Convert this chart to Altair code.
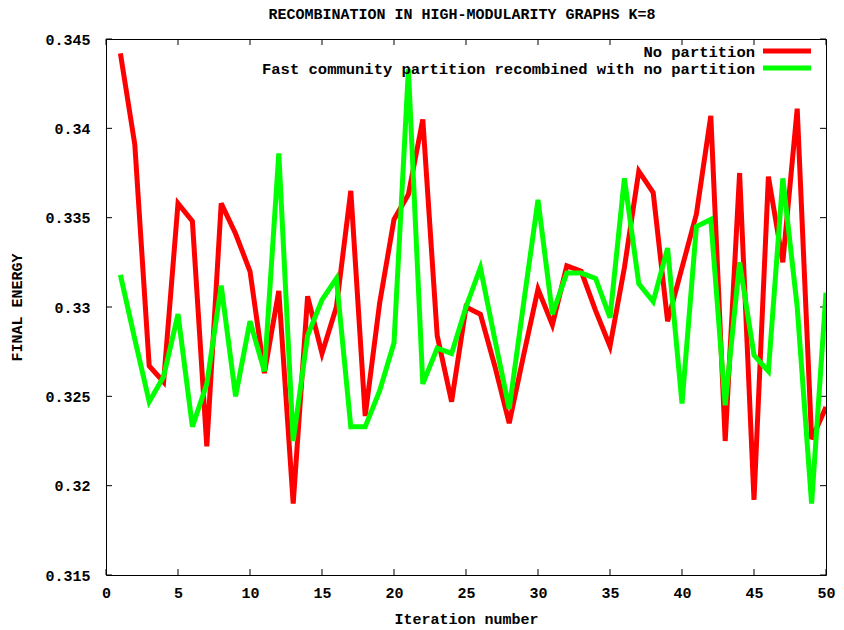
import altair as alt
import pandas as pd

ITER = list(range(1, 51))
NO_PART = [0.3442, 0.3391, 0.3267, 0.3258, 0.3358, 0.3348, 0.3222, 0.3358, 0.3341, 0.3320,
           0.3263, 0.3309, 0.3190, 0.3306, 0.3274, 0.3300, 0.3365, 0.3239, 0.3302, 0.3349,
           0.3363, 0.3405, 0.3284, 0.3247, 0.3300, 0.3296, 0.3267, 0.3235, 0.3273, 0.3310,
           0.3290, 0.3323, 0.3320, 0.3298, 0.3278, 0.3322, 0.3376, 0.3364, 0.3292, 0.3322,
           0.3352, 0.3407, 0.3225, 0.3375, 0.3192, 0.3373, 0.3325, 0.3411, 0.3226, 0.3244]
FAST_COMM = [0.3318, 0.3282, 0.3247, 0.3261, 0.3296, 0.3233, 0.3257, 0.3312, 0.3250, 0.3292,
             0.3264, 0.3386, 0.3225, 0.3284, 0.3304, 0.3316, 0.3233, 0.3233, 0.3253, 0.3280,
             0.3433, 0.3257, 0.3277, 0.3274, 0.3300, 0.3322, 0.3282, 0.3243, 0.3302, 0.3360,
             0.3296, 0.3319, 0.3319, 0.3316, 0.3294, 0.3372, 0.3313, 0.3303, 0.3333, 0.3246,
             0.3345, 0.3349, 0.3245, 0.3325, 0.3273, 0.3264, 0.3372, 0.3300, 0.3190, 0.3308]
SERIES = ["No partition", "Fast community partition recombined with no partition"]
COLORS = ["#ff0000", "#00ff00"]
X_TICKS = [0, 5, 10, 15, 20, 25, 30, 35, 40, 45, 50]
Y_TICKS = [0.315, 0.32, 0.325, 0.33, 0.335, 0.34, 0.345]
TITLE = "RECOMBINATION IN HIGH-MODULARITY GRAPHS K=8"
X_TITLE = "Iteration number"
Y_TITLE = "FINAL ENERGY"

FONT = "Liberation Mono"
W, H = 720, 536
TICK = 6

xscale = alt.Scale(domain=[0, 50], nice=False, zero=False)
yscale = alt.Scale(domain=[0.315, 0.345], nice=False, zero=False)
xaxis = alt.Axis(values=X_TICKS, title=X_TITLE, labelPadding=10, titlePadding=11, labelFlush=False)
yaxis = alt.Axis(values=Y_TICKS, title=Y_TITLE, format=".3~f", labelPadding=16, titlePadding=20,
                 labelFlush=False)

series_data = [NO_PART, FAST_COMM]
layers = []

xt = pd.DataFrame({"v": X_TICKS})
yt = pd.DataFrame({"v": Y_TICKS})
tick_style = dict(color="black", strokeWidth=1)
layers.append(alt.Chart(xt).mark_rule(**tick_style).encode(
    x=alt.X("v:Q", scale=xscale, axis=xaxis), y=alt.value(H), y2=alt.value(H - TICK)))
layers.append(alt.Chart(xt).mark_rule(**tick_style).encode(
    x=alt.X("v:Q", scale=xscale, axis=xaxis), y=alt.value(0), y2=alt.value(TICK)))
layers.append(alt.Chart(yt).mark_rule(**tick_style).encode(
    y=alt.Y("v:Q", scale=yscale, axis=yaxis), x=alt.value(0), x2=alt.value(TICK)))
layers.append(alt.Chart(yt).mark_rule(**tick_style).encode(
    y=alt.Y("v:Q", scale=yscale, axis=yaxis), x=alt.value(W), x2=alt.value(W - TICK)))

for name, vals, col in zip(SERIES, series_data, COLORS):
    d = pd.DataFrame({"iter": ITER, "energy": vals})
    layers.append(alt.Chart(d).mark_line(color=col, strokeWidth=5, strokeJoin="miter", clip=True).encode(
        x=alt.X("iter:Q", scale=xscale, axis=xaxis),
        y=alt.Y("energy:Q", scale=yscale, axis=yaxis)))

for i, (name, col) in enumerate(zip(SERIES, COLORS)):
    ld = pd.DataFrame({"label": [name]})
    layers.append(alt.Chart(ld).mark_text(
        font=FONT, fontSize=15.5, fontWeight="bold", align="right", baseline="middle", color="black"
    ).encode(text="label:N", x=alt.value(649), y=alt.value(13 + 17 * i)))
    layers.append(alt.Chart(ld).mark_rule(color=col, strokeWidth=5).encode(
        x=alt.value(657), x2=alt.value(705), y=alt.value(12 + 17 * i)))

chart = alt.layer(*layers).properties(
    width=W, height=H,
    autosize=alt.AutoSizeParams(type="none"),
    padding={"left": 98, "top": 31, "right": 10, "bottom": 55},
    title=alt.TitleParams(TITLE, font=FONT, fontSize=15, fontWeight="bold", anchor="middle",
                          color="black", offset=10, dx=-4),
).configure_view(stroke="black", strokeWidth=1).configure_axis(
    domain=False, grid=False, ticks=False,
    labelFont=FONT, labelFontSize=15, labelFontWeight="bold", labelColor="black",
    titleFont=FONT, titleFontSize=15, titleFontWeight="bold", titleColor="black",
)

chart.save("out.html", embed_options={"renderer": "svg", "actions": False})
